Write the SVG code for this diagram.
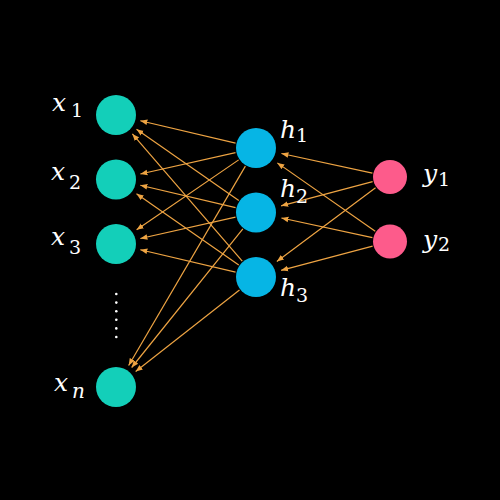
<svg xmlns="http://www.w3.org/2000/svg" width="500" height="500" viewBox="0 0 500 500">
<defs>
<style>
.in{fill:#13cfb9}
.hid{fill:#06b5e5}
.out{fill:#fd5b8b}
.edge{stroke:#eea443;stroke-width:1.2;fill:none;marker-end:url(#ah)}
text{fill:#ffffff;font-family:"DejaVu Serif","Liberation Serif",serif}
.m{font-style:italic;font-size:25px}
.s{font-size:19px}
.si{font-style:italic;font-size:20px}
.dot{fill:#ffffff}
</style>
<marker id="ah" markerWidth="8" markerHeight="7" refX="7" refY="3.5" orient="auto" markerUnits="userSpaceOnUse">
<path d="M0,0.7 L7,3.5 L0,6.3 z" fill="#eea443"/>
</marker>
</defs>
<rect width="500" height="500" fill="#000000"/>
<g id="connectors">
<line class="edge" x1="235.56" y1="143.18" x2="140.33" y2="120.74"/>
<line class="edge" x1="235.51" y1="152.61" x2="140.39" y2="174.01"/>
<line class="edge" x1="238.68" y1="159.88" x2="136.62" y2="229.86"/>
<line class="edge" x1="245.39" y1="166.12" x2="128.64" y2="365.43"/>
<line class="edge" x1="238.77" y1="200.5" x2="136.51" y2="129.29"/>
<line class="edge" x1="235.56" y1="207.68" x2="140.33" y2="185.24"/>
<line class="edge" x1="235.51" y1="217.11" x2="140.39" y2="238.51"/>
<line class="edge" x1="242.86" y1="228.88" x2="131.64" y2="367.5"/>
<line class="edge" x1="242.27" y1="261.11" x2="132.35" y2="133.92"/>
<line class="edge" x1="238.77" y1="265.0" x2="136.51" y2="193.79"/>
<line class="edge" x1="235.56" y1="272.18" x2="140.33" y2="249.74"/>
<line class="edge" x1="239.49" y1="289.97" x2="135.66" y2="371.55"/>
<line class="edge" x1="372.41" y1="173.19" x2="281.41" y2="153.5"/>
<line class="edge" x1="372.6" y1="181.61" x2="281.13" y2="205.84"/>
<line class="edge" x1="375.57" y1="187.77" x2="276.84" y2="261.45"/>
<line class="edge" x1="375.24" y1="231.2" x2="277.32" y2="162.88"/>
<line class="edge" x1="372.41" y1="237.69" x2="281.41" y2="218.0"/>
<line class="edge" x1="372.6" y1="246.11" x2="281.13" y2="270.34"/>
</g>
<g id="x1"><circle class="in" cx="116" cy="115" r="20"/><text class="m" x="52" y="111">x</text><text class="s" x="71" y="117">1</text></g>
<g id="x2"><circle class="in" cx="116" cy="179.5" r="20"/><text class="m" x="51" y="180">x</text><text class="s" x="69" y="189">2</text></g>
<g id="x3"><circle class="in" cx="116" cy="244" r="20"/><text class="m" x="51" y="245">x</text><text class="s" x="69" y="254">3</text></g>
<g id="xn"><circle class="in" cx="116" cy="387" r="20"/><text class="m" x="54" y="391">x</text><text class="si" x="72" y="398">n</text></g>
<g id="h1"><circle class="hid" cx="256" cy="148" r="20"/><text class="m" x="280" y="138">h</text><text class="s" x="296" y="142">1</text></g>
<g id="h2"><circle class="hid" cx="256" cy="212.5" r="20"/><text class="m" x="280" y="197">h</text><text class="s" x="296" y="203">2</text></g>
<g id="h3"><circle class="hid" cx="256" cy="277" r="20"/><text class="m" x="280" y="296">h</text><text class="s" x="296" y="302">3</text></g>
<g id="y1"><circle class="out" cx="390" cy="177" r="17"/><text class="m" x="423" y="182">y</text><text class="s" x="438" y="186">1</text></g>
<g id="y2"><circle class="out" cx="390" cy="241.5" r="17"/><text class="m" x="423" y="248">y</text><text class="s" x="438" y="251">2</text></g>
<g id="dots">
<circle class="dot" cx="116.3" cy="294" r="1.3"/>
<circle class="dot" cx="116.3" cy="302.6" r="1.3"/>
<circle class="dot" cx="116.3" cy="311.2" r="1.3"/>
<circle class="dot" cx="116.3" cy="319.8" r="1.3"/>
<circle class="dot" cx="116.3" cy="328.4" r="1.3"/>
<circle class="dot" cx="116.3" cy="337" r="1.3"/>
</g>
</svg>
